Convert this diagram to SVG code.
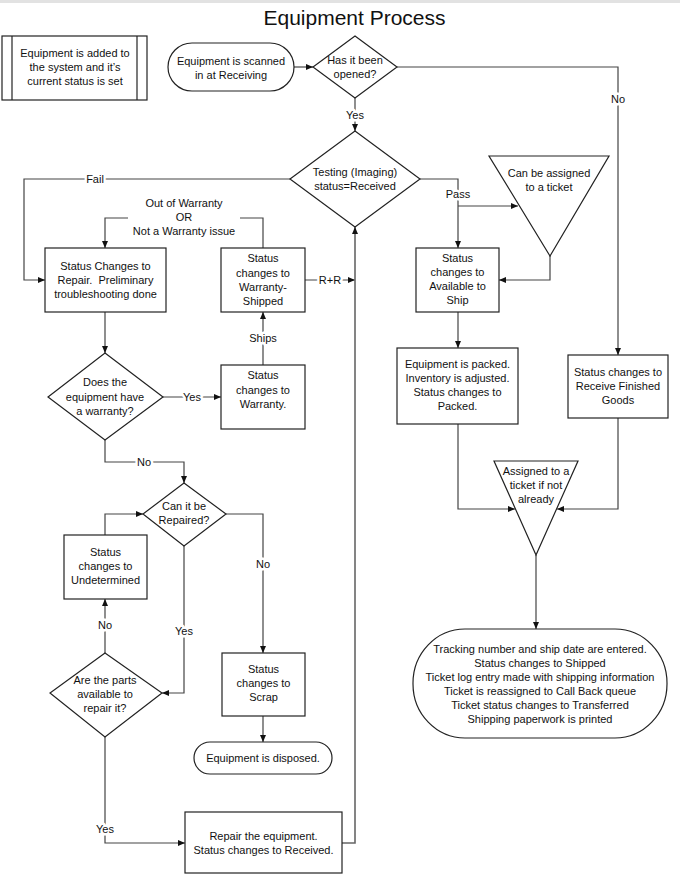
<svg xmlns="http://www.w3.org/2000/svg" width="680" height="875" viewBox="0 0 680 875">
<style>
.n{fill:#fff;stroke:#222;stroke-width:1.2}
.t{font-family:"Liberation Sans",Arial,sans-serif;font-size:11px;fill:#111;text-anchor:middle}
.c{fill:none;stroke:#444;stroke-width:1.2}
.l{font-family:"Liberation Sans",Arial,sans-serif;font-size:11px;fill:#111;text-anchor:middle;paint-order:stroke;stroke:#fff;stroke-width:5px;stroke-linejoin:round}
.m{font-family:"Liberation Sans",Arial,sans-serif;font-size:11px;fill:#111;text-anchor:middle}
</style>
<defs>
<marker id="a" markerUnits="userSpaceOnUse" markerWidth="7" markerHeight="7" refX="7" refY="3.5" orient="auto">
<path d="M0,0.5 L7,3.5 L0,6.5 z" fill="#111"/>
</marker>
</defs>
<rect x="0" y="0" width="680" height="875" fill="#fff"/>
<rect x="0" y="0" width="680" height="3" fill="#e2e2e2"/>
<text x="354.5" y="25" font-family="Liberation Sans,Arial,sans-serif" font-size="21" text-anchor="middle" fill="#111">Equipment Process</text>

<g id="connectors">
<path class="c" d="M294,67 L313,67" marker-end="url(#a)"/>
<path class="c" d="M397,67 H618 V355" marker-end="url(#a)"/>
<path class="c" d="M355,98 V131" marker-end="url(#a)"/>
<path class="c" d="M290,179 H24 V280 H45" marker-end="url(#a)"/>
<path class="c" d="M263,248 V218 H240"/>
<path class="c" d="M128,218 H105 V248" marker-end="url(#a)"/>
<path class="c" d="M305,280 H355" marker-end="url(#a)"/>
<path class="c" d="M105,312 V353" marker-end="url(#a)"/>
<path class="c" d="M163,397 H221" marker-end="url(#a)"/>
<path class="c" d="M263,365 V312" marker-end="url(#a)"/>
<path class="c" d="M105,440 V462 H184 V483" marker-end="url(#a)"/>
<path class="c" d="M226,514 H263 V653" marker-end="url(#a)"/>
<path class="c" d="M263,716 V742" marker-end="url(#a)"/>
<path class="c" d="M184,546 V693 H162" marker-end="url(#a)"/>
<path class="c" d="M105,653 V599" marker-end="url(#a)"/>
<path class="c" d="M105,535 V514 H143" marker-end="url(#a)"/>
<path class="c" d="M105,737 V843 H185" marker-end="url(#a)"/>
<path class="c" d="M342,843 H355 V227" marker-end="url(#a)" style="stroke:#666;stroke-width:1.6"/>
<path class="c" d="M420,179 H458 V248" marker-end="url(#a)"/>
<path class="c" d="M458,206 H518" marker-end="url(#a)"/>
<path class="c" d="M550,256 V280 H499" marker-end="url(#a)"/>
<path class="c" d="M458,312 V348" marker-end="url(#a)"/>
<path class="c" d="M458,424 V509 H515" marker-end="url(#a)"/>
<path class="c" d="M618,418 V509 H557" marker-end="url(#a)"/>
<path class="c" d="M536,555 V629" marker-end="url(#a)"/>
<text class="l" x="618" y="103">No</text>
<text class="l" x="355" y="119">Yes</text>
<text class="l" x="95" y="183">Fail</text>
<text class="m" x="184" y="207">Out of Warranty</text>
<text class="m" x="184" y="221">OR</text>
<text class="m" x="184" y="235">Not a Warranty issue</text>
<text class="l" x="330" y="284">R+R</text>
<text class="l" x="192" y="401">Yes</text>
<text class="l" x="263" y="342">Ships</text>
<text class="l" x="144" y="466">No</text>
<text class="l" x="263" y="568">No</text>
<text class="l" x="184" y="635">Yes</text>
<text class="l" x="105" y="629">No</text>
<text class="l" x="105" y="833">Yes</text>
<text class="l" x="458" y="198">Pass</text>
</g>

<g id="added">
<rect class="n" x="2" y="36" width="145" height="64"/>
<line class="n" x1="12" y1="36" x2="12" y2="100"/>
<line class="n" x1="137" y1="36" x2="137" y2="100"/>
<text class="t" x="75" y="57">Equipment is added to</text>
<text class="t" x="75" y="71">the system and it’s</text>
<text class="t" x="75" y="85">current status is set</text>
</g>

<g id="scanned">
<rect class="n" x="168" y="43" width="126" height="48" rx="24" ry="24"/>
<text class="t" x="231" y="65">Equipment is scanned</text>
<text class="t" x="231" y="79">in at Receiving</text>
</g>

<g id="opened">
<polygon class="n" points="355,36 397,67 355,98 313,67"/>
<text class="t" x="355" y="64">Has it been</text>
<text class="t" x="355" y="78">opened?</text>
</g>

<g id="testing">
<polygon class="n" points="355,131 420,179 355,227 290,179"/>
<text class="t" x="355" y="176">Testing (Imaging)</text>
<text class="t" x="355" y="190">status=Received</text>
</g>

<g id="repair">
<rect class="n" x="45" y="248" width="121" height="64"/>
<text class="t" x="105.5" y="270">Status Changes to</text>
<text class="t" x="105.5" y="284">Repair.&#160; Preliminary</text>
<text class="t" x="105.5" y="298">troubleshooting done</text>
</g>

<g id="warrantyshipped">
<rect class="n" x="221" y="248" width="84" height="64"/>
<text class="t" x="263" y="262">Status</text>
<text class="t" x="263" y="277">changes to</text>
<text class="t" x="263" y="291">Warranty-</text>
<text class="t" x="263" y="305">Shipped</text>
</g>

<g id="haswarranty">
<polygon class="n" points="105,353 163,397 105,440 48,397"/>
<text class="t" x="105" y="386">Does the</text>
<text class="t" x="105" y="401">equipment have</text>
<text class="t" x="105" y="415">a warranty?</text>
</g>

<g id="warranty">
<rect class="n" x="221" y="365" width="84" height="64"/>
<text class="t" x="263" y="379">Status</text>
<text class="t" x="263" y="394">changes to</text>
<text class="t" x="263" y="408">Warranty.</text>
</g>

<g id="canrepair">
<polygon class="n" points="184,483 226,514 184,546 143,514"/>
<text class="t" x="184" y="510">Can it be</text>
<text class="t" x="184" y="524">Repaired?</text>
</g>

<g id="undetermined">
<rect class="n" x="64" y="535" width="83" height="64"/>
<text class="t" x="105.5" y="556">Status</text>
<text class="t" x="105.5" y="570">changes to</text>
<text class="t" x="105.5" y="584">Undetermined</text>
</g>

<g id="parts">
<polygon class="n" points="105,653 162,693 105,737 50,693"/>
<text class="t" x="105" y="684">Are the parts</text>
<text class="t" x="105" y="698">available to</text>
<text class="t" x="105" y="712">repair it?</text>
</g>

<g id="scrap">
<rect class="n" x="222" y="653" width="83" height="63"/>
<text class="t" x="263.5" y="673">Status</text>
<text class="t" x="263.5" y="687">changes to</text>
<text class="t" x="263.5" y="701">Scrap</text>
</g>

<g id="disposed">
<rect class="n" x="194" y="742" width="138" height="32" rx="16" ry="16"/>
<text class="t" x="263" y="762">Equipment is disposed.</text>
</g>

<g id="repairequip">
<rect class="n" x="185" y="812" width="157" height="61"/>
<text class="t" x="263.5" y="840">Repair the equipment.</text>
<text class="t" x="263.5" y="854">Status changes to Received.</text>
</g>

<g id="assignable">
<polygon class="n" points="489,156 609,156 550,256"/>
<text class="t" x="549" y="177">Can be assigned</text>
<text class="t" x="549" y="191">to a ticket</text>
</g>

<g id="available">
<rect class="n" x="416" y="248" width="83" height="64"/>
<text class="t" x="457.5" y="262">Status</text>
<text class="t" x="457.5" y="276">changes to</text>
<text class="t" x="457.5" y="290">Available to</text>
<text class="t" x="457.5" y="304">Ship</text>
</g>

<g id="packed">
<rect class="n" x="397" y="348" width="121" height="76"/>
<text class="t" x="457.5" y="368">Equipment is packed.</text>
<text class="t" x="457.5" y="382">Inventory is adjusted.</text>
<text class="t" x="457.5" y="396">Status changes to</text>
<text class="t" x="457.5" y="410">Packed.</text>
</g>

<g id="finished">
<rect class="n" x="568" y="355" width="100" height="63"/>
<text class="t" x="618" y="376">Status changes to</text>
<text class="t" x="618" y="390">Receive Finished</text>
<text class="t" x="618" y="404">Goods</text>
</g>

<g id="assigned">
<polygon class="n" points="494,461 578,461 536,555"/>
<text class="t" x="536" y="475">Assigned to a</text>
<text class="t" x="536" y="489">ticket if not</text>
<text class="t" x="536" y="503">already</text>
</g>

<g id="shipped">
<rect class="n" x="413" y="629" width="254" height="109" rx="52" ry="54"/>
<text class="t" x="540" y="653">Tracking number and ship date are entered.</text>
<text class="t" x="540" y="667">Status changes to Shipped</text>
<text class="t" x="540" y="681">Ticket log entry made with shipping information</text>
<text class="t" x="540" y="695">Ticket is reassigned to Call Back queue</text>
<text class="t" x="540" y="709">Ticket status changes to Transferred</text>
<text class="t" x="540" y="723">Shipping paperwork is printed</text>
</g>
</svg>
